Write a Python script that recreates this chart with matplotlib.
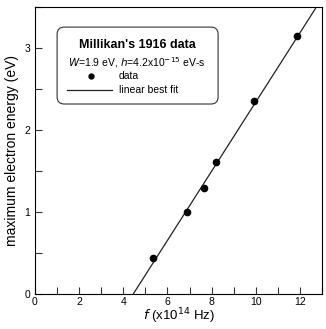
import matplotlib.pyplot as plt
from matplotlib.patches import FancyBboxPatch
from matplotlib.ticker import MultipleLocator

plt.rcParams['font.family'] = ['Liberation Sans', 'DejaVu Sans']

# Millikan's 1916 photoelectric data
freq = [5.35, 6.89, 7.66, 8.21, 9.91, 11.89]      # x10^14 Hz
energy = [0.435, 1.0, 1.29, 1.605, 2.35, 3.15]    # eV

# linear best fit, W=1.9 eV, h=4.2e-15 eV-s
fit_f = [4.45, 12.7]
fit_e = [0.0, 3.48]

fig = plt.figure(figsize=(3.26, 3.29), dpi=100)
ax = fig.add_axes([35 / 326, 1 - 294 / 329, 287 / 326, 287 / 329])

ax.plot(fit_f, fit_e, color='#222222', lw=0.9, label='linear best fit')
ax.plot(freq, energy, 'o', color='black', ms=4.5, label='data')

ax.set_xlim(0, 13)
ax.set_ylim(0, 3.5)
ax.xaxis.set_major_locator(MultipleLocator(2))
ax.xaxis.set_minor_locator(MultipleLocator(1))
ax.yaxis.set_major_locator(MultipleLocator(1))
ax.yaxis.set_minor_locator(MultipleLocator(0.5))
ax.tick_params(which='both', direction='in', labelsize=7.5, length=5, width=0.8, color='#333333')
ax.tick_params(axis='x', pad=2.5)
for s in ax.spines.values():
    s.set_linewidth(0.8)

ax.set_xlabel(r'$f$ (x10$^{14}$ Hz)', fontsize=9.5, labelpad=-0.5)
ax.set_ylabel('maximum electron energy (eV)', fontsize=10, labelpad=4)

# legend box
box = FancyBboxPatch((0.077, 0.662), 0.561, 0.268, boxstyle='round,pad=0,rounding_size=0.025',
                     transform=ax.transAxes, fc='white', ec='#333333', lw=0.8, zorder=3)
ax.add_patch(box)
ax.text(0.355, 0.868, "Millikan's 1916 data", transform=ax.transAxes, ha='center', va='center',
        fontsize=9, fontweight='bold', zorder=4)
ax.text(0.355, 0.808, r'$W$=1.9 eV, $h$=4.2x10$^{-15}$ eV-s', transform=ax.transAxes,
        ha='center', va='center', fontsize=7.5, zorder=4)
ax.plot([0.195], [0.76], 'o', color='black', ms=3.5, transform=ax.transAxes, zorder=4)
ax.text(0.293, 0.76, 'data', transform=ax.transAxes, va='center', fontsize=7.5, zorder=4)
ax.plot([0.11, 0.268], [0.711, 0.711], color='#222222', lw=0.9, transform=ax.transAxes, zorder=4)
ax.text(0.293, 0.711, 'linear best fit', transform=ax.transAxes, va='center', fontsize=7.5, zorder=4)

fig.savefig('out.png', dpi=100)
